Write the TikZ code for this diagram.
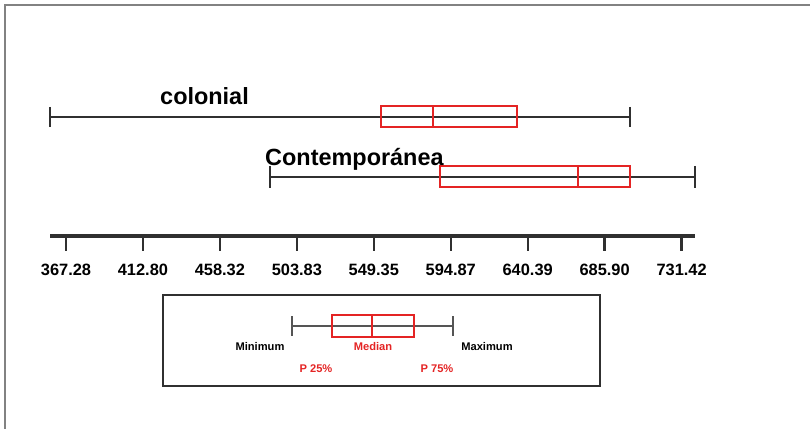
\documentclass[tikz,border=0pt]{standalone}
\usepackage{fontspec}
\setmainfont{Liberation Sans}
\definecolor{boxred}{RGB}{228,36,36}
\definecolor{linegray}{RGB}{48,48,48}
\definecolor{keygray}{RGB}{85,85,85}
\definecolor{framegray}{RGB}{130,130,130}

\begin{document}
\begin{tikzpicture}[x=0.03cm,y=-0.03cm,
    whisker/.style={draw=linegray,line width=2pt},
    quartbox/.style={draw=boxred,line width=1.2pt},
    medianline/.style={draw=boxred,line width=2.2pt},
    grouplabel/.style={font=\bfseries\fontsize{20}{24}\selectfont,inner sep=0pt,anchor=base west},
    ticklabel/.style={font=\bfseries\fontsize{14}{16}\selectfont,inner sep=0pt},
    keylabel/.style={font=\bfseries\fontsize{9.5}{11}\selectfont,inner sep=0pt}]
        \useasboundingbox (0,0) rectangle (810,429);
        \draw [framegray,line width=2.5pt] (5,429) -- (5,5) -- (810,5);

        % colonial
        \node [grouplabel] (colonial) at (160,105) {colonial};
        \coordinate (colmin) at (50,117);
        \coordinate (colmax) at (630,117);
        \draw [whisker] (colmin) -- (colmax);
        \draw [whisker] (colmin) ++(0,-10) -- ++(0,20);
        \draw [whisker] (colmax) ++(0,-10) -- ++(0,20);
        \draw [quartbox,fill=white,fill opacity=0] (381,106) rectangle (517,127);
        \draw [medianline] (433,106) -- (433,127);

        % contemporanea
        \node [grouplabel] (contemp) at (265,166) {Contemporánea};
        \coordinate (conmin) at (270,177);
        \coordinate (conmax) at (695,177);
        \draw [whisker] (conmin) -- (conmax);
        \draw [whisker] (conmin) ++(0,-11) -- ++(0,22);
        \draw [whisker] (conmax) ++(0,-11) -- ++(0,22);
        \draw [quartbox] (440,166) rectangle (630,187);
        \draw [medianline] (578,166) -- (578,187);

        % scale
        \draw [linegray,line width=2.6pt] (50,236) -- (695,236);
        \foreach \lab [count=\i from 0] in {367.28,412.80,458.32,503.83,549.35,594.87,640.39,685.90,731.42} {
            \draw [whisker] (66+76.95*\i,236) -- ++(0,15);
            \node [ticklabel] (tick\i) at (66+76.95*\i,270) {\lab};
        }

        % key
        \draw [linegray,line width=1.5pt] (163,295) rectangle (600,386);
        \coordinate (keymin) at (292,326);
        \coordinate (keymax) at (453,326);
        \draw [keygray,line width=1.8pt] (keymin) -- (keymax);
        \draw [keygray,line width=1.8pt] (keymin) ++(0,-10) -- ++(0,20);
        \draw [keygray,line width=1.8pt] (keymax) ++(0,-10) -- ++(0,20);
        \draw [quartbox] (332,315) rectangle (414,337);
        \draw [quartbox] (372,315) -- (372,337);
        \node [keylabel] (minlab) at (260,347) {Minimum};
        \node [keylabel,text=boxred] (medlab) at (373,347) {Median};
        \node [keylabel] (maxlab) at (487,347) {Maximum};
        \node [keylabel,text=boxred] (p25lab) at (316,369) {P 25\%};
        \node [keylabel,text=boxred] (p75lab) at (437,369) {P 75\%};
\end{tikzpicture}
\end{document}
